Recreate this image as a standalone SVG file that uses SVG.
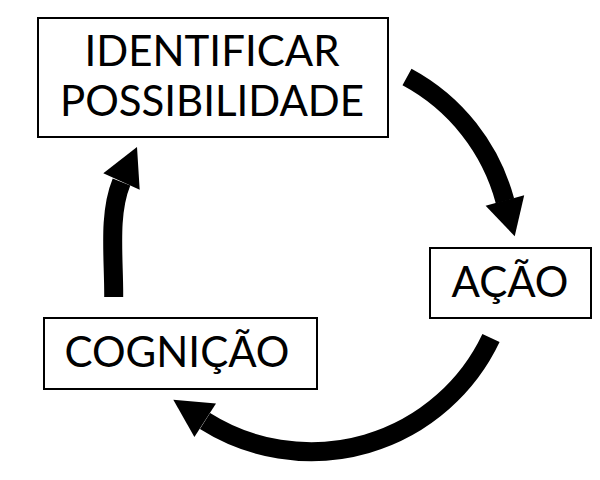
<svg xmlns="http://www.w3.org/2000/svg" width="600" height="480" viewBox="0 0 600 480">
<style>
.box{fill:#fff;stroke:#000;stroke-width:2}
.lbl{font-family:Lato,"Liberation Sans",sans-serif;font-size:42px;fill:#000;text-anchor:middle}
.shaft{fill:none;stroke:#000;stroke-width:19}
.head{fill:#000}
</style>
<rect width="600" height="480" fill="#fff"/>
<g id="connectors">
<g id="arrow-identificar-acao">
<path class="shaft" d="M407,77 A199,199 0 0 1 505,201"/>
<polygon class="head" points="485.6,205.8 524.2,195.2 514.7,236.2"/>
</g>
<g id="arrow-acao-cognicao">
<path class="shaft" d="M491,338 A199,199 0 0 1 205,421"/>
<polygon class="head" points="194.4,437.1 216,403.5 173.3,399.7"/>
</g>
<g id="arrow-cognicao-identificar">
<path class="shaft" d="M113.7,297 C114,258 108,215 121.5,182"/>
<polygon class="head" points="103.3,173.3 139.7,189.7 137,147"/>
</g>
</g>
<g id="node-identificar">
<rect class="box" x="38" y="18" width="350" height="119"/>
<text class="lbl" x="212" y="66">IDENTIFICAR</text>
<text class="lbl" x="212" y="116">POSSIBILIDADE</text>
</g>
<g id="node-acao">
<rect class="box" x="430" y="248" width="161" height="70"/>
<text class="lbl" x="510" y="297">AÇÃO</text>
</g>
<g id="node-cognicao">
<rect class="box" x="44" y="318" width="273" height="71"/>
<text class="lbl" x="177" y="367">COGNIÇÃO</text>
</g>
</svg>
